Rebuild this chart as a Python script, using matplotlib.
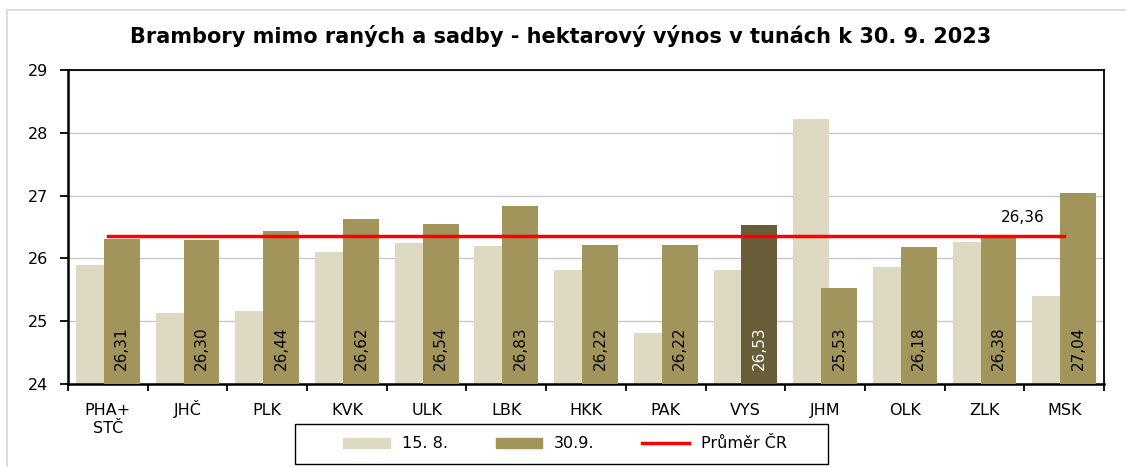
import matplotlib.pyplot as plt
import matplotlib.transforms as mtransforms
import numpy as np
from matplotlib.lines import Line2D
from matplotlib.patches import Rectangle

# ===== data =====
regions = ["PHA+\nSTČ", "JHČ", "PLK", "KVK", "ULK", "LBK", "HKK",
           "PAK", "VYS", "JHM", "OLK", "ZLK", "MSK"]
vynos_15_8 = [25.90, 25.13, 25.16, 26.11, 26.25, 26.19, 25.81,
              24.82, 25.81, 28.22, 25.86, 26.26, 25.40]
vynos_30_9 = [26.31, 26.30, 26.44, 26.62, 26.54, 26.83, 26.22,
              26.22, 26.53, 25.53, 26.18, 26.38, 27.04]
prumer_cr = 26.36
highlight = "VYS"

LIGHT, MID, DARK, RED = "#DDD9C3", "#A2955C", "#675D39", "#FF0000"

fig = plt.figure(figsize=(11.26, 4.67), dpi=100)
ax = fig.add_axes([0.0604, 0.1777, 0.9201, 0.6724])

x = np.arange(len(regions))
w, off = 0.45, 0.175
ax.bar(x - off, vynos_15_8, width=w, color=LIGHT, zorder=2)
cols = [DARK if r == highlight else MID for r in regions]
ax.bar(x + off, vynos_30_9, width=w, color=cols, zorder=3)

for i, v in enumerate(vynos_30_9):
    ax.text(x[i] + off, 24.22, f"{v:.2f}".replace(".", ","), rotation=90,
            ha="center", va="bottom", fontsize=11,
            color="white" if regions[i] == highlight else "black", zorder=5)

ax.plot([x[0], x[-1]], [prumer_cr, prumer_cr], color=RED, lw=2.5, zorder=4)
ax.text(11.75, prumer_cr + 0.17, f"{prumer_cr:.2f}".replace(".", ","),
        ha="right", va="bottom", fontsize=11, zorder=5)

ax.set_xlim(-0.5, len(regions) - 0.5)
ax.set_ylim(24, 29)
ax.set_yticks(range(24, 30))
ax.tick_params(axis="y", direction="out", length=6, width=1.3, labelsize=11.5, pad=8)
ax.set_xticks(x)
ax.tick_params(axis="x", which="major", length=0, pad=22)
ax.set_xticklabels(regions, fontsize=11.5, va="baseline", linespacing=1.25)
ax.set_xticks(np.arange(-0.5, len(regions)), minor=True)
ax.tick_params(axis="x", which="minor", direction="out", length=5, width=1.3)
# two-line label: first line on the common baseline
lab0 = ax.get_xticklabels()[0]
lab0.set_transform(lab0.get_transform()
                   + mtransforms.ScaledTranslation(0, -0.18, fig.dpi_scale_trans))

ax.grid(axis="y", color="#C8C8C8", lw=1)
ax.set_axisbelow(True)
for s in ax.spines.values():
    s.set_color("black")
    s.set_linewidth(1.3)
ax.spines["left"].set_linewidth(1.8)
ax.spines["bottom"].set_linewidth(1.8)

fig.text(0.4975, 0.922, "Brambory mimo raných a sadby - hektarový výnos v tunách k 30. 9. 2023",
         ha="center", va="center", fontsize=15, fontweight="bold")

# outer frame (left and top edges visible)
fig.add_artist(Line2D([7 / 1126, 7 / 1126], [0, 1 - 10 / 467], transform=fig.transFigure,
                      color="#D9D9D9", lw=1.2))
fig.add_artist(Line2D([7 / 1126, 1], [1 - 10 / 467, 1 - 10 / 467], transform=fig.transFigure,
                      color="#D9D9D9", lw=1.2))

# legend
fig.add_artist(Rectangle((295 / 1126, 1 - 464 / 467), 533 / 1126, 40 / 467,
                         transform=fig.transFigure, fill=False, edgecolor="black", lw=1))
handles = [Rectangle((0, 0), 1, 1, color=LIGHT), Rectangle((0, 0), 1, 1, color=MID),
           Line2D([], [], color=RED, lw=2.5)]
fig.legend(handles, ["15. 8.", "30.9.", "Průměr ČR"], loc="center",
           bbox_to_anchor=(565 / 1126, 1 - 444 / 467), ncol=3, frameon=False,
           fontsize=11.5, handlelength=2.9, handleheight=0.6, handletextpad=0.75,
           columnspacing=3.0)

fig.savefig("out.png", dpi=100, facecolor="white")
